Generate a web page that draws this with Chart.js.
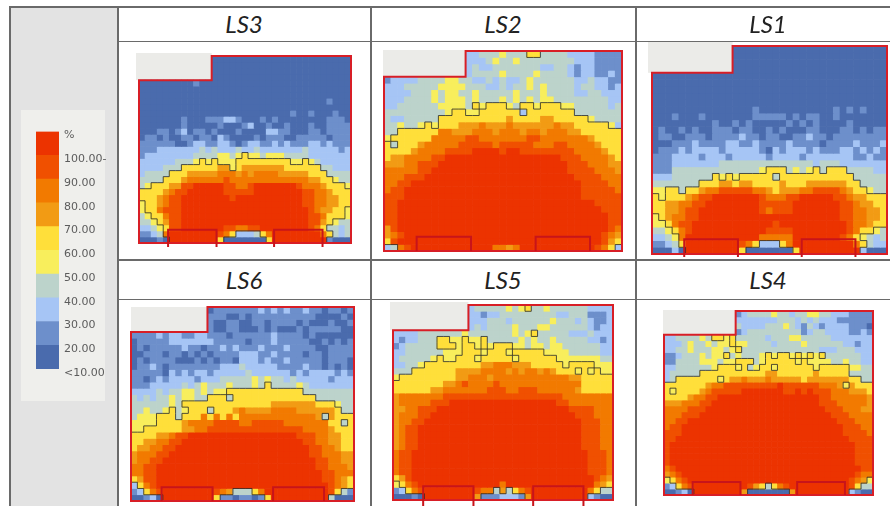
<!DOCTYPE html>
<html>
<head>
<meta charset="utf-8">
<script src="https://cdn.jsdelivr.net/npm/chart.js@4"></script>
<style>
  html, body { margin: 0; background: #fff; width: 890px; height: 506px; overflow: hidden; }
  .box { position: absolute; }
  .line { position: absolute; background: #6a6a6a; }
  .title { position: absolute; width: 120px; text-align: center; font: italic 24px Lato, sans-serif; color: #222; }
  canvas { position: absolute; filter: blur(0.45px); }
</style>
</head>
<body>
<div class="box" style="left:9px;top:7px;width:108px;height:499px;background:#e3e3e3"></div>
<div class="box" style="left:21px;top:110px;width:84px;height:291px;background:#efefec"></div>
<div class="line" style="left:9px;top:6px;width:881px;height:1.5px"></div>
<div class="line" style="left:117px;top:40.5px;width:773px;height:1.5px"></div>
<div class="line" style="left:117px;top:259px;width:773px;height:1.5px"></div>
<div class="line" style="left:117px;top:298.5px;width:773px;height:1.5px"></div>
<div class="line" style="left:9px;top:6px;width:1.5px;height:500px"></div>
<div class="line" style="left:117px;top:6px;width:1.5px;height:500px"></div>
<div class="line" style="left:370px;top:6px;width:1.5px;height:500px"></div>
<div class="line" style="left:635px;top:6px;width:1.5px;height:500px"></div>
<script>
// band of each cell: 0 = below 20% ... 9 = above 100%, "." = outside the room
const LS3 = [
  "..... ..... ..000 00000 00000 00000 00000",
  "..... ..... ..000 00000 00000 00000 00000",
  "..... ..... ..000 00000 00000 00000 00000",
  "..... ..... ..000 00000 00000 00000 00000",
  "00000 00001 00000 00000 00000 00000 00000",
  "00000 00000 00000 00000 00000 00000 00000",
  "00000 00000 00000 00000 00000 00000 00000",
  "00000 00000 00000 00000 00000 00000 01000",
  "00000 00000 00000 00000 00000 00000 00000",
  "00000 00000 00000 00000 00000 10010 00100",
  "00000 00100 01112 21000 10100 00000 01110",
  "00000 00100 00010 00120 01001 00010 01111",
  "00011 01201 10100 01000 02211 00011 01111",
  "01101 00110 11021 00001 01110 01111 10111",
  "11111 10012 21122 10122 11212 11122 12111",
  "11122 22222 32322 23223 22222 22322 22212",
  "12222 22223 33344 34544 34443 33322 22222",
  "22222 23334 54544 45555 55555 44543 22222",
  "22223 33555 55566 45666 66665 55555 33222",
  "23333 55566 66677 76767 77766 66655 53333",
  "33335 55677 77778 77777 77777 77766 55433",
  "34555 66889 99998 87789 99999 98777 65554",
  "55556 78899 99998 88889 99999 99887 76555",
  "55567 88999 99999 89999 99999 99887 76655",
  "45567 88999 99999 99999 99999 99887 76655",
  "45578 88999 99999 99999 99999 99987 66554",
  "34557 88999 99999 99999 99999 99988 75554",
  "33456 88999 99999 99999 99999 99988 65433",
  "22345 88999 99998 87788 99999 99987 53323",
  "11237 99999 99987 52223 57999 99999 75323",
  "00010 99999 99950 00000 05999 99999 91000",
];
const LS2 = [
  "..... ..... ..223 33433 35533 33222 21111",
  "..... ..... ..222 34334 33333 33322 21111",
  "..... ..... ..232 23333 33322 33212 21111",
  "..... ..... ..233 33433 33433 33212 21121",
  "12222 33334 43322 32322 34333 33322 32211",
  "22233 33344 44333 22323 34343 33323 32212",
  "22223 33434 43343 33334 33343 33322 33222",
  "22233 33434 44343 33434 34344 33333 33322",
  "22333 33344 44354 55543 55455 54433 33323",
  "33333 33334 55445 55555 25555 55533 33333",
  "32233 33355 55555 55565 55566 55555 43333",
  "33433 45455 56667 66676 66666 76655 55542",
  "33555 55577 66677 76777 67767 77665 55555",
  "45555 55777 77887 77777 78877 77777 65555",
  "53555 67777 78888 87888 88777 88777 76555",
  "55556 77778 88899 99899 88888 88877 77655",
  "56677 77889 99999 99999 99999 98887 77765",
  "66677 88899 99999 99999 99999 99888 77766",
  "77777 88999 99999 99999 99999 99888 87776",
  "77788 89999 99999 99999 99999 99988 88777",
  "77889 99999 99999 99999 99999 99998 88877",
  "78899 99999 99999 99999 99999 99998 88887",
  "88899 99999 99999 99999 99999 99998 88888",
  "88999 99999 99999 99999 99999 99999 98888",
  "88999 99999 99999 99999 99999 99999 99888",
  "88999 99999 99999 99999 99999 99999 99988",
  "88999 99999 99999 99999 99999 99999 99988",
  "68999 99999 99999 99999 99999 99999 99987",
  "67899 99999 99999 99999 99999 99999 99876",
  "58999 99999 99999 99999 99999 99999 99865",
  "23789 99999 99999 97767 99999 99999 98752",
];
const LS1 = [
  "..... ..... ..000 00000 00000 00000 00000",
  "..... ..... ..000 00000 00000 00000 00000",
  "..... ..... ..000 00000 00000 00000 00000",
  "..... ..... ..000 00000 00000 00000 00000",
  "00000 00000 00000 00000 00000 00000 00000",
  "00000 00000 00000 00000 00000 00000 00000",
  "00000 00000 00000 00000 00000 00000 00000",
  "00000 00000 00000 00000 00000 00000 00000",
  "00000 00000 00000 00000 00000 00000 00000",
  "00000 00000 00000 10000 00000 00101 01000",
  "00010 00100 00000 11111 01011 00100 00000",
  "00000 00001 00101 00000 10101 00001 00000",
  "01001 01001 11011 00101 00011 00011 01011",
  "01100 11101 11121 10110 01121 10111 11111",
  "00011 12111 12211 21111 21111 01111 21112",
  "01112 12222 12222 21021 22212 11122 12121",
  "11122 22122 21222 22122 22122 22222 11211",
  "11122 22222 33333 33333 33332 33322 22222",
  "11133 33333 33333 34555 34345 35553 33322",
  "22233 33335 45455 55535 55555 55555 33333",
  "33333 33555 66566 55556 55566 66665 53333",
  "44553 55677 88888 77656 66778 88876 55433",
  "54555 67889 99999 98777 88999 99887 66555",
  "55667 78899 99999 98888 89999 99988 76655",
  "55667 88999 99999 98788 89999 99988 77665",
  "45677 88999 99999 99999 99999 99988 77665",
  "44578 89999 99999 99989 99999 99998 77655",
  "33457 89999 99999 99888 89999 99998 75543",
  "22347 99999 99999 97777 79999 99987 54323",
  "11235 99999 99987 52225 79999 99999 75322",
  "00020 99999 99950 00000 05999 99999 92000",
];
const LS6 = [
  "..... ..... ..011 11111 21212 11211 01101",
  "..... ..... ..111 00101 11111 11110 00010",
  "..... ..... ..100 11001 10111 10100 01001",
  "..... ..... ..100 11000 10100 01011 11100",
  "11112 12211 22111 01111 11211 11010 00000",
  "01111 12222 22211 11101 11211 11100 10101",
  "01011 11121 10112 12111 21112 11110 01111",
  "00111 01101 01011 11222 11211 11011 01111",
  "01011 11000 10101 10222 12112 11111 01110",
  "01121 01111 11112 22322 22211 11211 01010",
  "11111 02121 22122 22232 22222 12122 22121",
  "11012 12222 12223 33334 34332 32222 21222",
  "11122 22232 34333 43334 35333 34322 22222",
  "22223 23344 34344 55555 55555 55333 33333",
  "32323 34344 33555 35555 55555 55553 33333",
  "33333 34355 55555 55555 55666 66665 55433",
  "33433 45345 55355 56766 66777 76666 66533",
  "34445 55355 57575 75777 77777 77776 36555",
  "44445 55567 77788 88778 88887 77777 75535",
  "44555 55566 77888 88888 88888 88777 76555",
  "55556 67889 99999 99999 99999 98887 76655",
  "55667 78899 99999 99999 99999 99887 76655",
  "56677 88999 99999 99999 99999 99988 77655",
  "67778 89999 99999 99999 99999 99988 77766",
  "67788 99999 99999 99999 99999 99998 87766",
  "77889 99999 99999 99999 99999 99998 87776",
  "77889 99999 99999 99999 99999 99999 88777",
  "56889 99999 99999 99999 99999 99999 88765",
  "25789 99999 99999 99999 99999 99999 98765",
  "12578 99999 99987 63335 79999 99999 98531",
  "00120 99999 99951 10110 15999 99999 93000",
];
const LS5 = [
  "..... ..... ..233 33343 45334 33333 32222",
  "..... ..... ..221 22333 33333 32233 31112",
  "..... ..... ..222 33323 33333 43332 32112",
  "..... ..... ..232 33334 33344 33333 32122",
  "22223 33333 34333 33334 34533 33322 23222",
  "21223 33554 45445 33333 43433 43333 32212",
  "12333 33555 45545 45554 43443 44333 33322",
  "22333 33344 45554 55545 55554 44433 33322",
  "23333 34544 55545 55554 55555 54444 44433",
  "22334 55555 55556 67776 66555 55455 55444",
  "33355 55555 66667 77767 67767 65554 54544",
  "45555 55555 66777 67777 77777 77766 55555",
  "55555 55566 78777 78777 77777 77777 55555",
  "55555 56677 77777 88877 88877 77776 55555",
  "67777 77788 88888 88888 88888 88777 77777",
  "67777 78889 99999 99999 99999 98877 77777",
  "66778 88999 99999 99999 99999 99988 88777",
  "67778 89999 99999 99999 99999 99998 88777",
  "67788 99999 99999 99999 99999 99999 88877",
  "67889 99999 99999 99999 99999 99999 88877",
  "67889 99999 99999 99999 99999 99999 88877",
  "67889 99999 99999 99999 99999 99999 88877",
  "67889 99999 99999 99999 99999 99999 88877",
  "78899 99999 99999 99999 99999 99999 98887",
  "78899 99999 99999 99999 99999 99999 98887",
  "78899 99999 99999 99999 99999 99999 98887",
  "78899 99999 99999 99999 99999 99999 98887",
  "56899 99999 99999 99999 99999 99999 99876",
  "45789 99999 99999 99799 99999 99999 99765",
  "12578 99999 99987 73635 78999 99999 97533",
  "00010 99999 99961 11222 16999 99999 92100",
];
const LS4 = [
  "..... ..... ..123 33343 32334 43322 21111",
  "..... ..... ..222 22223 33232 32221 11111",
  "..... ..... ..322 22333 43213 21222 21110",
  "..... ..... ..123 33333 33312 33222 21121",
  "22333 34355 45333 33233 34433 33322 22222",
  "22234 33434 45443 33323 33343 33333 22122",
  "22334 33344 34533 33333 33333 32223 33222",
  "11233 34344 53433 34545 54545 45333 33322",
  "11333 34443 44555 34555 55454 44433 43322",
  "22333 33345 55453 45545 55555 45555 54433",
  "23333 35555 55555 55665 55555 65555 53333",
  "23555 55554 56676 66766 66656 66666 65533",
  "55555 55677 88888 88889 88888 87776 46555",
  "54555 56788 88899 99999 88989 88877 76665",
  "55556 77889 99999 99999 99999 98877 77776",
  "66677 78899 99999 99999 99999 98887 77776",
  "77778 88999 99999 99999 99999 99888 77766",
  "77788 89999 99999 99999 99999 99988 87777",
  "77889 99999 99999 99999 99999 99998 88777",
  "78899 99999 99999 99999 99999 99999 88877",
  "88899 99999 99999 99999 99999 99999 88887",
  "88999 99999 99999 99999 99999 99999 98888",
  "89999 99999 99999 99999 99999 99999 99888",
  "89999 99999 99999 99999 99999 99999 99888",
  "89999 99999 99999 99999 99999 99999 99888",
  "89999 99999 99999 99999 99999 99999 99888",
  "78999 99999 99999 99999 99999 99999 99988",
  "67899 99999 99999 99999 99999 99999 99877",
  "45789 99999 99999 99999 99999 99999 98764",
  "12578 99999 99998 65357 89999 99999 98533",
  "00120 99999 99960 00000 06999 99999 92100",
];
const legendLabels = ["<10.00", "20.00", "30.00", "40.00", "50.00", "60.00", "70.00", "80.00", "90.00", "100.00-", "%"];
const bandColors = ["#4a6bad", "#6d8fcb", "#a6c5f5", "#bcd3cb", "#f8ee5c", "#ffdf3a", "#f29b14", "#f27a00", "#f05000", "#ec3300"];

// where each map goes on the page: left, top, width, height, inlet ticks, grey overhang
const panels = [
  { name: "LS3", rows: LS3, x: 139, y: 55.5, w: 212, h: 187, tick: 4, spill: 3, cx: 244, cy: 9 },
  { name: "LS2", rows: LS2, x: 384, y: 50.5, w: 238, h: 200, tick: 0, spill: 1, cx: 503, cy: 9 },
  { name: "LS1", rows: LS1, x: 652, y: 46, w: 235, h: 208, tick: 3, spill: 4, cx: 768, cy: 9 },
  { name: "LS6", rows: LS6, x: 131, y: 307, w: 223, h: 194, tick: 0, spill: 0, cx: 244, cy: 265 },
  { name: "LS5", rows: LS5, x: 393, y: 305, w: 220, h: 195, tick: 6, spill: 3, cx: 503, cy: 265 },
  { name: "LS4", rows: LS4, x: 664, y: 311, w: 209, h: 184, tick: 0, spill: 1, cx: 768, cy: 265 },
];
const NCOLS = 35;
const NROWS = 31;
const NOTCH_COLS = 12;
const NOTCH_ROWS = 4;
const INLETS = [[4.8, 12.8], [22.3, 30.3]];
const INLET_ROWS = 2.2;
const CONTOUR_BAND = 5;
const PAD = 8;

function addCanvas(left, top, width, height) {
  const c = document.createElement("canvas");
  c.width = width;
  c.height = height;
  c.style.left = left + "px";
  c.style.top = top + "px";
  c.style.width = width + "px";
  c.style.height = height + "px";
  document.body.appendChild(c);
  return c;
}

// contour line, room outline and inlets, laid over the cells
const roomPlugin = {
  id: "room",
  beforeDatasetsDraw(chart, args, opts) {
    const ctx = chart.ctx;
    const a = chart.chartArea;
    const cw = a.width / NCOLS;
    const rh = a.height / NROWS;
    const s = opts.spill;
    ctx.fillStyle = "#ebebe8";
    ctx.fillRect(a.left - s, a.top - s, NOTCH_COLS * cw + s, NOTCH_ROWS * rh + s);
  },
  afterDatasetsDraw(chart, args, opts) {
    const g = opts.grid;
    const ctx = chart.ctx;
    const a = chart.chartArea;
    const cw = a.width / NCOLS;
    const px = (c) => chart.scales.x.getPixelForValue(c) - cw / 2;
    const py = (r) => chart.scales.y.getPixelForValue(r);
    const band = (r, c) => {
      const ch = g[r] && g[r][c];
      return ch === undefined || ch === "." ? -1 : Number(ch);
    };

    ctx.save();
    ctx.strokeStyle = "rgba(40,40,40,0.8)";
    ctx.lineWidth = 1;
    ctx.beginPath();
    for (let r = 0; r < NROWS; r++) {
      for (let c = 0; c < NCOLS; c++) {
        const v = band(r, c);
        if (v < 0) continue;
        const here = v >= CONTOUR_BAND;
        const right = band(r, c + 1);
        if (right >= 0 && right >= CONTOUR_BAND !== here) {
          ctx.moveTo(px(c + 1), py(r));
          ctx.lineTo(px(c + 1), py(r + 1));
        }
        const below = band(r + 1, c);
        if (below >= 0 && below >= CONTOUR_BAND !== here) {
          ctx.moveTo(px(c), py(r + 1));
          ctx.lineTo(px(c + 1), py(r + 1));
        }
      }
    }
    ctx.stroke();

    ctx.strokeStyle = "#d81e26";
    ctx.lineWidth = 2;
    ctx.beginPath();
    ctx.moveTo(px(0), py(NOTCH_ROWS));
    ctx.lineTo(px(NOTCH_COLS), py(NOTCH_ROWS));
    ctx.lineTo(px(NOTCH_COLS), py(0));
    ctx.lineTo(px(NCOLS), py(0));
    ctx.lineTo(px(NCOLS), py(NROWS));
    ctx.lineTo(px(0), py(NROWS));
    ctx.closePath();
    ctx.stroke();

    ctx.strokeStyle = "#c8141a";
    ctx.beginPath();
    INLETS.forEach(([c0, c1]) => {
      ctx.moveTo(px(c0), py(NROWS) + opts.tick);
      ctx.lineTo(px(c0), py(NROWS - INLET_ROWS));
      ctx.lineTo(px(c1), py(NROWS - INLET_ROWS));
      ctx.lineTo(px(c1), py(NROWS) + opts.tick);
    });
    ctx.stroke();
    ctx.restore();
  },
};

const colLabels = Array.from({ length: NCOLS }, (_, i) => i);

panels.forEach((p) => {
  const grid = p.rows.map((r) => r.replace(/ /g, ""));
  const datasets = grid.map((row) => ({
    data: colLabels.map(() => 1),
    backgroundColor: colLabels.map((c) => bandColors[Number(row[c])] || "transparent"),
    stack: "rows",
    barPercentage: 1,
    categoryPercentage: 1,
    borderWidth: 0,
  }));

  const canvas = addCanvas(p.x - PAD, p.y - PAD, p.w + PAD * 2, p.h + PAD * 2);
  new Chart(canvas, {
    type: "bar",
    data: { labels: colLabels, datasets: datasets },
    plugins: [roomPlugin],
    options: {
      responsive: false,
      animation: false,
      layout: { padding: PAD },
      plugins: {
        legend: { display: false },
        tooltip: { enabled: false },
        room: { grid: grid, tick: p.tick, spill: p.spill },
      },
      scales: {
        x: { display: false, stacked: true },
        y: { display: false, stacked: true, reverse: true, min: 0, max: NROWS },
      },
    },
  });

  const t = document.createElement("div");
  t.className = "title";
  t.textContent = p.name;
  t.style.left = p.cx - 60 + "px";
  t.style.top = p.cy + "px";
  document.body.appendChild(t);
});

// colour scale
const scaleCanvas = addCanvas(36, 120, 72, 262);
new Chart(scaleCanvas, {
  type: "bar",
  data: {
    labels: ["%"],
    datasets: bandColors.map((color) => ({
      data: [1],
      backgroundColor: color,
      stack: "scale",
      barPercentage: 1,
      categoryPercentage: 1,
      borderWidth: 0,
    })),
  },
  options: {
    responsive: false,
    animation: false,
    layout: { padding: { top: 9, bottom: 13 } },
    plugins: { legend: { display: false }, tooltip: { enabled: false } },
    scales: {
      x: { display: false, stacked: true },
      y: {
        position: "right",
        stacked: true,
        min: 0,
        max: 10,
        afterFit: (s) => { s.width = 49; },
        grid: { display: false, drawTicks: false },
        border: { display: false },
        ticks: {
          stepSize: 1,
          autoSkip: false,
          padding: 5,
          labelOffset: 4,
          color: "#5c5c5c",
          font: { family: "DejaVu Sans", size: 11 },
          callback: (v) => legendLabels[v],
        },
      },
    },
  },
});
</script>
</body>
</html>
